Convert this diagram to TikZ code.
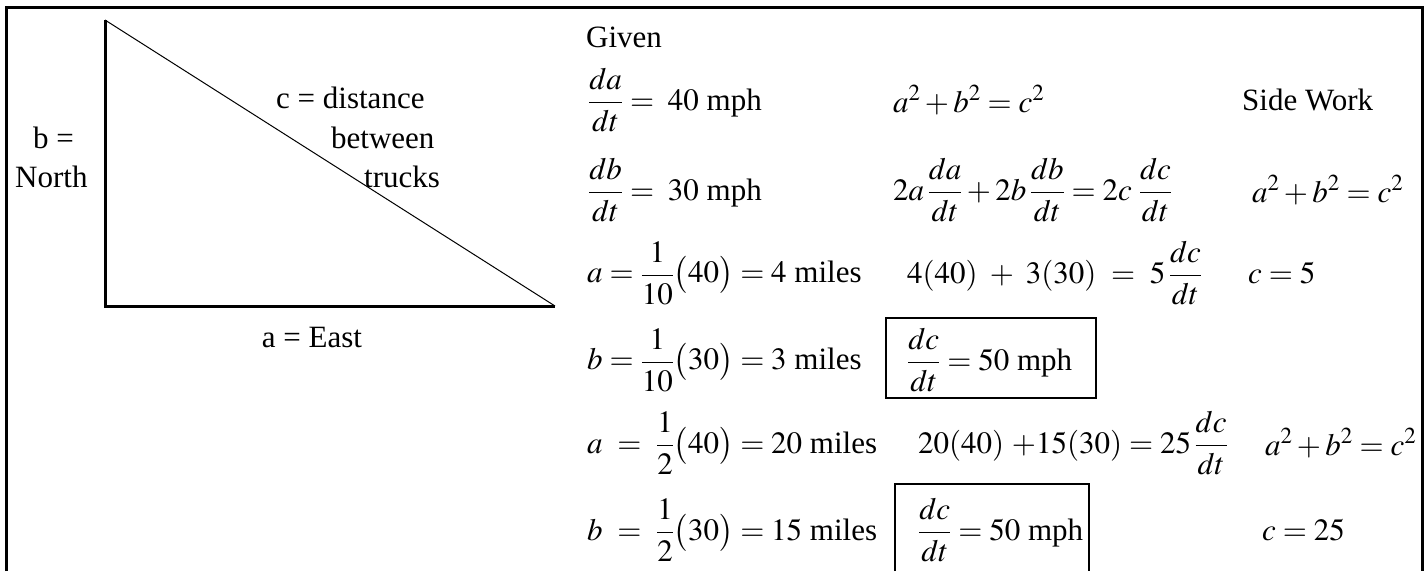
\documentclass[tikz,border=0pt]{standalone}
\usepackage{amsmath}
\usepackage{mathptmx}
\usepackage{fontspec}
\setmainfont{Liberation Serif}
\newcommand\bigfs{\fontsize{31}{37}\selectfont}
\tikzset{
  lbl/.style={inner sep=0pt, anchor=west, font=\bigfs},
  clbl/.style={inner sep=0pt, anchor=center, font=\bigfs},
  frameline/.style={line width=3pt},
  boxline/.style={line width=2.5pt},
  legline/.style={line width=3pt},
  hypline/.style={line width=1pt}
}
\begin{document}
\begin{tikzpicture}[x=1pt,y=-1pt]
\useasboundingbox (0,0) rectangle (1428,571);
% outer frame (open at bottom)
\coordinate (f1) at (6,571);
\coordinate (f2) at (6,7);
\coordinate (f3) at (1422,7);
\coordinate (f4) at (1422,571);
\draw[frameline] (f1) -- (f2) -- (f3) -- (f4);
% triangle
\coordinate (A) at (105,20);
\coordinate (B) at (105,306);
\coordinate (C) at (555,306);
\draw[legline] (A) -- (B) -- (C);
\draw[hypline] (A) -- (C);
% left labels
\node[lbl] (bl) at (33,138) {b =};
\node[lbl] (north) at (15,177) {North};
\node[lbl] (cdist) at (276,98) {c = distance};
\node[lbl] (betw) at (331,138) {between};
\node[lbl] (truck) at (364,177) {trucks};
\node[clbl] (east) at (312,337) {a = East};
% right side
\node[lbl] (given) at (586,37) {Given};
\node[lbl] (r1a) at (588,100) {$\dfrac{da}{dt} = \;40\ \text{mph}$};
\node[lbl] (r1b) at (893,100) {$a^2+b^2=c^2$};
\node[lbl] (side) at (1242,100) {Side Work};
\node[lbl] (r2a) at (588,190) {$\dfrac{db}{dt} = \;30\ \text{mph}$};
\node[lbl] (r2b) at (893,190) {$2a\,\dfrac{da}{dt}+2b\,\dfrac{db}{dt}=2c\;\dfrac{dc}{dt}$};
\node[lbl] (r2c) at (1252,190) {$a^2+b^2=c^2$};
\node[lbl] (r3a) at (587,273) {$a=\dfrac{1}{10}\bigl(40\bigr)=4\ \text{miles}$};
\node[lbl] (r3b) at (907,273) {$4(40)\ +\ 3(30)\ =\ 5\,\dfrac{dc}{dt}$};
\node[lbl] (r3c) at (1248,273) {$c=5$};
\node[lbl] (r4a) at (587,360) {$b=\dfrac{1}{10}\bigl(30\bigr)=3\ \text{miles}$};
\coordinate (b1a) at (886,318);
\coordinate (b1b) at (1096,398);
\draw[boxline] (b1a) rectangle (b1b);
\node[lbl] (r4b) at (907,360) {$\dfrac{dc}{dt}=50\ \text{mph}$};
\node[lbl] (r5a) at (587,443) {$a\ =\ \dfrac{1}{2}\bigl(40\bigr)=20\ \text{miles}$};
\node[lbl] (r5b) at (918,443) {$20(40)\ {+}15(30)=25\,\dfrac{dc}{dt}$};
\node[lbl] (r5c) at (1265,443) {$a^2+b^2=c^2$};
\node[lbl] (r6a) at (587,530) {$b\ =\ \dfrac{1}{2}\bigl(30\bigr)=15\ \text{miles}$};
\coordinate (b2a) at (895,571);
\coordinate (b2b) at (895,484);
\coordinate (b2c) at (1089,484);
\coordinate (b2d) at (1089,571);
\draw[boxline] (b2a) -- (b2b) -- (b2c) -- (b2d);
\node[lbl] (r6b) at (918,530) {$\dfrac{dc}{dt}=50\ \text{mph}$};
\node[lbl] (r6c) at (1262,530) {$c=25$};
\end{tikzpicture}
\end{document}
